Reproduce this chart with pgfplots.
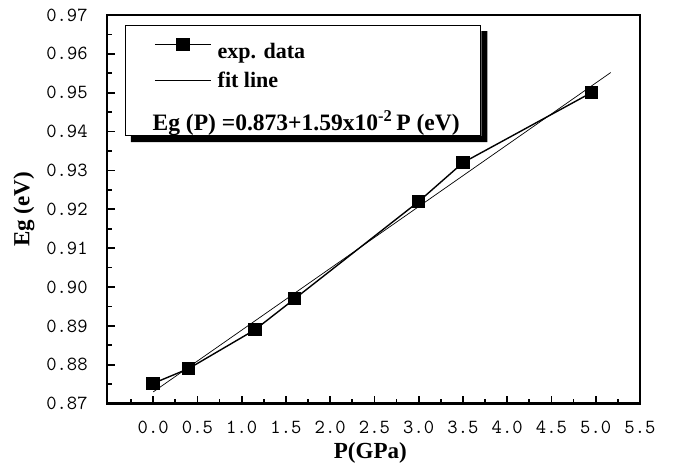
\documentclass[border=0pt]{standalone}
\usepackage{fontspec}
\setmainfont{Liberation Serif}
\usepackage{pgfplots}
\pgfplotsset{compat=1.18}
\usetikzlibrary{calc}

\begin{document}
\begin{tikzpicture}
\begin{axis}[
    scale only axis,
    width=532pt, height=388pt,
    xmin=-0.52, xmax=5.5,
    ymin=0.87, ymax=0.97,
    xtick={0,0.5,...,5.5},
    minor xtick={-0.25,0.25,0.75,...,5.25},
    ytick={0.87,0.88,...,0.971},
    minor ytick={0.875,0.885,...,0.966},
    xtick pos=bottom, ytick pos=left,
    tick align=inside,
    major tick length=8pt, minor tick length=5pt,
    every tick/.style={black, line width=1.8pt},
    axis line style={line width=2.2pt},
    /pgf/number format/assume math mode=true,
    xticklabel style={/pgf/number format/fixed, /pgf/number format/fixed zerofill, /pgf/number format/precision=1, yshift=-14pt},
    yticklabel style={/pgf/number format/fixed, /pgf/number format/fixed zerofill, /pgf/number format/precision=2, xshift=-16pt},
    tick label style={font=\ttfamily\fontsize{20}{20}\selectfont},
    xlabel={P(GPa)}, ylabel={Eg (eV)},
    label style={font=\bfseries\fontsize{23}{23}\selectfont},
    xlabel style={at={(axis description cs:0.494,-0.128)}, anchor=center},
    ylabel style={at={(axis description cs:-0.156,0.5)}, anchor=center},
    legend cell align=left,
    legend style={at={(axis description cs:0.033,0.974)}, anchor=north west,
        draw=black, line width=0.8pt, fill=white,
        font=\bfseries\fontsize{22}{22}\selectfont,
        inner xsep=29pt, inner ysep=1.5pt, row sep=8pt,
        append after command={\pgfextra{\fill[black]
            ($(\tikzlastnode.north east)+(0.4pt,-6pt)$) -- ++(6pt,0)
            |- ($(\tikzlastnode.south west)+(6pt,-6pt)$) -- ++(0,6pt) -| cycle;}}},
    legend image code/.code={\path (60pt,0pt);
        \draw[mark repeat=2,mark phase=2,#1] plot coordinates {(0pt,0pt) (28pt,0pt) (56pt,0pt)};},
]
\addplot[black, line width=1.4pt, mark=square*, mark size=6pt, mark options={solid}]
    coordinates {(0,0.8752) (0.4,0.879) (1.15,0.889) (1.6,0.897) (3.0,0.922) (3.5,0.932) (4.95,0.950)};
\addlegendentry{\rule{0pt}{29pt}exp. data}
\addplot[black, line width=0.7pt]
    coordinates {(0,0.873) (5.17,0.9552)};
\addlegendentry{fit line}
\addlegendimage{empty legend}
\addlegendentry{\hspace*{-65pt}\fontsize{23.5}{23.5}\selectfont\rule{0pt}{30pt}Eg (P) =0.873+1.59x10\textsuperscript{-2}\,P (eV)\hspace*{-10pt}}
\end{axis}
\pgfresetboundingbox
\useasboundingbox ($(current axis.south west)+(-107pt,-69pt)$) rectangle ($(current axis.north east)+(40pt,15pt)$);
\end{tikzpicture}
\end{document}
